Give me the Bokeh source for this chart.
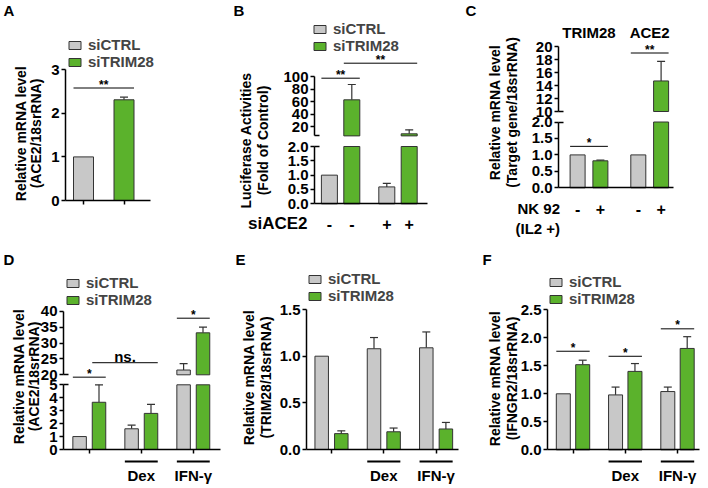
import math
from bokeh.plotting import figure
from bokeh.models import (Range1d, LinearAxis, FixedTicker, Label, Legend, LegendItem,
                          Whisker, TeeHead, ColumnDataSource, CustomJSTickFormatter,
                          PrintfTickFormatter)
from bokeh.layouts import row, column
from bokeh.embed import file_html
from bokeh.resources import INLINE

# ---------------- data ----------------
SERIES = ["siCTRL", "siTRIM28"]

A_ctrl = [1.0]
A_ctrl_sem = [0.0]
A_trim = [2.31]
A_trim_sem = [0.06]
A_ticks = [0, 1, 2, 3]
A_sig = [("**", (0, 0), (0, 1), 2.58, "lo")]

B_siACE2 = ["-", "+"]
B_ctrl = [1.0, 0.59]
B_ctrl_sem = [0.0, 0.12]
B_trim = [62.7, 8.3]
B_trim_sem = [24.5, 6.4]
B_lo_ticks = [0.0, 0.5, 1.0, 1.5, 2.0]
B_hi_ticks = [20, 40, 60, 80, 100]
B_sig = [("**", (0, 0), (0, 1), 97.3, "hi"), ("**", (0, 1), (1, 1), 121.3, "hi")]

C_genes = ["TRIM28", "ACE2"]
C_nk92 = ["-", "+"]
C_minus = [1.0, 1.0]
C_minus_sem = [0.0, 0.0]
C_plus = [0.82, 14.7]
C_plus_sem = [0.02, 3.0]
C_lo_ticks = [0.0, 0.5, 1.0, 1.5, 2.0]
C_hi_ticks = [10, 12, 14, 16, 18, 20]
C_sig = [("*", (0, 0), (0, 1), 1.26, "lo"), ("**", (1, 0), (1, 1), 19.0, "hi")]

TREATMENTS = ["", "Dex", "IFN-γ"]

D_ctrl = [1.0, 1.6, 21.5]
D_ctrl_sem = [0.0, 0.28, 2.0]
D_trim = [3.65, 2.79, 33.2]
D_trim_sem = [1.35, 0.7, 1.8]
D_lo_ticks = [0, 1, 2, 3, 4, 5]
D_hi_ticks = [20, 25, 30, 35, 40]
D_sig = [("*", (0, 0), (0, 1), 5.59, "lo"), ("ns.", (0, 1), (1, 1), 23.8, "hi"),
         ("*", (2, 0), (2, 1), 37.8, "hi")]

E_ctrl = [1.0, 1.08, 1.09]
E_ctrl_sem = [0.0, 0.12, 0.17]
E_trim = [0.17, 0.19, 0.22]
E_trim_sem = [0.03, 0.04, 0.07]
E_ticks = [0.0, 0.5, 1.0, 1.5]

F_ctrl = [1.0, 0.98, 1.04]
F_ctrl_sem = [0.0, 0.14, 0.08]
F_trim = [1.52, 1.40, 1.81]
F_trim_sem = [0.08, 0.14, 0.21]
F_ticks = [0.0, 0.5, 1.0, 1.5, 2.0, 2.5]
F_sig = [("*", (0, 0), (0, 1), 1.76, "lo"), ("*", (1, 0), (1, 1), 1.67, "lo"),
         ("*", (2, 0), (2, 1), 2.16, "lo")]

# ---------------- style ----------------
FONT = "Liberation Sans"
GREY = "#c8c8c8"
GREEN = "#5bb22c"
EDGE = "#333333"
TICK_SIZE = "15px"
YLAB_SIZE = "14px"
LEG_SIZE = "15px"


class Panel:
    def __init__(self, left, top, W, H, g0, gpx, zero_px, ppu, hi=None):
        self.left, self.top, self.W, self.H = left, top, W, H
        self.g0, self.gpx = g0, gpx
        self.maps = {"default": (zero_px, 0.0, ppu)}
        cx = g0 - left
        xr = Range1d(-cx / gpx, (W - cx) / gpx)
        cy = zero_px - top
        yr = Range1d(-(H - cy) / ppu, cy / ppu)
        p = figure(width=W, height=H, x_range=xr, y_range=yr, title=None,
                   output_backend="svg", toolbar_location=None,
                   x_axis_location=None, y_axis_location=None,
                   min_border=0, outline_line_color=None,
                   background_fill_color="white", border_fill_color="white")
        p.grid.visible = False
        if hi is not None:
            rp, rv, rppu = hi
            self.maps["hi"] = hi
            cy = rp - top
            p.extra_y_ranges = {"hi": Range1d(rv - (H - cy) / rppu, rv + cy / rppu)}
        self.p = p

    def X(self, px):
        return (px - self.g0) / self.gpx

    def Y(self, py, rn="default"):
        rp, rv, ppu = self.maps[rn]
        return rv + (rp - py) / ppu

    def PY(self, y, rn="default"):
        rp, rv, ppu = self.maps[rn]
        return rp - (y - rv) * ppu


def style_axis(ax, size=TICK_SIZE):
    ax.axis_line_color = "black"
    ax.axis_line_width = 1.5
    ax.major_tick_line_color = "black"
    ax.major_tick_line_width = 1.5
    ax.major_tick_out = 4
    ax.major_tick_in = 0
    ax.minor_tick_out = 0
    ax.minor_tick_in = 0
    ax.major_label_text_font = FONT
    ax.major_label_text_font_style = "bold"
    ax.major_label_text_font_size = size
    ax.major_label_text_color = "black"
    ax.major_label_standoff = 2


def empty_fmt():
    return CustomJSTickFormatter(code="return ''")


def y_axis(P, ax_px, ticks, bounds, fmt, rn="default", brk=None):
    ax = LinearAxis(y_range_name=rn, ticker=FixedTicker(ticks=ticks), bounds=bounds,
                    fixed_location=P.X(ax_px), formatter=PrintfTickFormatter(format=fmt))
    style_axis(ax)
    P.p.add_layout(ax, "left")
    if brk is not None:
        bx = LinearAxis(y_range_name=rn, ticker=FixedTicker(ticks=[brk]),
                        fixed_location=P.X(ax_px), formatter=empty_fmt())
        style_axis(bx)
        bx.axis_line_color = None
        bx.major_tick_in = 5
        bx.major_tick_out = 0
        P.p.add_layout(bx, "left")


def x_axis(P, ax_px, end_px, ticks):
    ax = LinearAxis(ticker=FixedTicker(ticks=ticks), bounds=(P.X(ax_px), P.X(end_px)),
                    fixed_location=0.0, formatter=empty_fmt())
    style_axis(ax)
    ax.major_tick_out = 4 if ticks else 0
    P.p.add_layout(ax, "below")


def bar_set(P, xs, vals, color, w, lo_top=None, hi_bot=None):
    tops = list(vals) if lo_top is None else [min(v, lo_top) for v in vals]
    r = P.p.vbar(x=xs, top=tops, bottom=0, width=w, fill_color=color,
                 line_color=EDGE, line_width=1)
    if lo_top is not None:
        hx = [x for x, v in zip(xs, vals) if v > hi_bot]
        hv = [v for v in vals if v > hi_bot]
        if hx:
            P.p.vbar(x=hx, top=hv, bottom=hi_bot, width=w, fill_color=color,
                     line_color=EDGE, line_width=1, y_range_name="hi")
    return r


def err_set(P, xs, vals, sems, lo_top=None):
    groups = {"default": [], "hi": []}
    for x, v, e in zip(xs, vals, sems):
        if e <= 0:
            continue
        rn = "hi" if (lo_top is not None and v > lo_top) else "default"
        groups[rn].append((x, v, v + e))
    for rn, items in groups.items():
        if not items:
            continue
        src = ColumnDataSource(dict(base=[i[0] for i in items], lower=[i[1] for i in items],
                                    upper=[i[2] for i in items]))
        wk = Whisker(source=src, base="base", lower="lower", upper="upper", dimension="height",
                     line_color=EDGE, line_width=1.2, lower_head=None,
                     upper_head=TeeHead(size=8, line_color=EDGE, line_width=1.2),
                     y_range_name=rn)
        P.p.add_layout(wk)


def lab(P, x, y, s, size, align="center", baseline="middle", angle=0.0):
    P.p.add_layout(Label(x=x, y=y, text=s, text_font=FONT, text_font_style="bold",
                         text_font_size=size, text_align=align, text_baseline=baseline,
                         angle=angle, text_color="black"))


def make(letter, box, g0, gpx, dodge_px, bar_px, axis_x, axis_end, zero_px, ppu,
         ticks, bounds, fmt, ctrl, ctrl_sem, trim, trim_sem, letter_pos, ylab, ylab_pos,
         hi=None, hi_ticks=None, hi_bounds=None, xtick_mode="none",
         legend_pos=None, sig=()):
    left, top, W, H = box
    P = Panel(left, top, W, H, g0, gpx, zero_px, ppu, hi)
    n = len(ctrl)
    d = dodge_px / gpx
    w = bar_px / gpx
    xc = [g - d for g in range(n)]
    xt = [g + d for g in range(n)]
    P.xc, P.xt, P.w = xc, xt, w
    lo_top = bounds[1] if hi else None
    hi_bot = hi_bounds[0] if hi else None
    rc = bar_set(P, xc, ctrl, GREY, w, lo_top, hi_bot)
    rt = bar_set(P, xt, trim, GREEN, w, lo_top, hi_bot)
    err_set(P, xc, ctrl, ctrl_sem, lo_top)
    err_set(P, xt, trim, trim_sem, lo_top)

    # axes
    y_axis(P, axis_x, ticks, bounds, fmt, "default", brk=(bounds[1] if hi else None))
    if hi:
        y_axis(P, axis_x, hi_ticks, hi_bounds, "%d", "hi", brk=hi_bounds[0])
    if xtick_mode == "bars":
        xticks = xc + xt
    elif xtick_mode == "groups":
        xticks = list(range(n))
    else:
        xticks = []
    x_axis(P, axis_x, axis_end, xticks)

    # significance
    for text, (g1, s1), (g2, s2), yv, seg in sig:
        rn = "hi" if seg == "hi" else "default"
        xa = (xc if s1 == 0 else xt)[g1] - w / 2
        xb = (xc if s2 == 0 else xt)[g2] + w / 2
        P.p.segment(x0=[xa], y0=[yv], x1=[xb], y1=[yv], line_color="black",
                    line_width=1, y_range_name=rn)
        lpx = P.PY(yv, rn)
        off = 6.5 if text == "ns." else 3.5
        lab(P, (xa + xb) / 2, P.Y(lpx - off), text, "15px" if text == "ns." else "12px")

    # legend
    if legend_pos is not None:
        sx, sy = legend_pos
        leg_h = 31
        leg = Legend(items=[LegendItem(label=SERIES[0], renderers=[rc]),
                            LegendItem(label=SERIES[1], renderers=[rt])],
                     location=(sx - left, H - (sy - top) - leg_h), orientation="vertical",
                     padding=0, margin=0, spacing=0, glyph_width=15, glyph_height=10,
                     label_height=10, label_standoff=6, label_text_font=FONT,
                     label_text_font_style="bold", label_text_font_size=LEG_SIZE,
                     border_line_color=None, background_fill_alpha=0)
        P.p.add_layout(leg)

    # panel letter and y label
    lab(P, P.X(letter_pos[0]), P.Y(letter_pos[1]), letter, "15px", align="left")
    x1, x2, yc = ylab_pos
    lab(P, P.X(x1), P.Y(yc), ylab[0], YLAB_SIZE, angle=math.pi / 2)
    lab(P, P.X(x2), P.Y(yc), ylab[1], YLAB_SIZE, angle=math.pi / 2)
    return P


def treatment_marks(P, y_line, y_text):
    for g, name in enumerate(TREATMENTS):
        if not name:
            continue
        xa = P.xc[g] - P.w / 2
        xb = P.xt[g] + P.w / 2
        P.p.segment(x0=[xa], y0=[P.Y(y_line)], x1=[xb], y1=[P.Y(y_line)],
                    line_color="black", line_width=2)
        lab(P, float(g), P.Y(y_text), name, "15px")


# ---------------- panels ----------------
pA = make("A", (0, 0, 230, 240), 103.25, 40.5, 20.25, 20, 65, 150, 200, 43.6,
          A_ticks, (0, 3), "%d", A_ctrl, A_ctrl_sem, A_trim, A_trim_sem,
          (3, 10), ("Relative mRNA level", "(ACE2/18srRNA)"), (20, 35, 133),
          xtick_mode="bars", legend_pos=(67, 39), sig=A_sig)

pB = make("B", (230, 0, 230, 240), 340.1, 57.4, 11.2, 16, 314, 427, 203.3, 28.65,
          B_lo_ticks, (0, 2.0), "%.1f", B_ctrl, B_ctrl_sem, B_trim, B_trim_sem,
          (233, 10), ("Luciferase Activities", "(Fold of Control)"), (245, 262, 140),
          hi=(126, 20, 0.625), hi_ticks=B_hi_ticks, hi_bounds=(5, 100),
          legend_pos=(312, 23), sig=B_sig)
for g, sign in enumerate(B_siACE2):
    lab(pB, pB.xc[g], pB.Y(223), sign, "16px")
    lab(pB, pB.xt[g], pB.Y(223), sign, "16px")
lab(pB, pB.X(307), pB.Y(223), "siACE2", "17px", align="right")

pC = make("C", (460, 0, 246, 240), 588.5, 60.7, 11.4, 15, 558, 673, 187.3, 32.9,
          C_lo_ticks, (0, 2.0), "%.1f", C_minus, C_minus_sem, C_plus, C_plus_sem,
          (465, 10), ("Relative mRNA level", "(Target gene/18srRNA)"), (494, 511, 112),
          hi=(111, 10, 6.5), hi_ticks=C_hi_ticks, hi_bounds=(10, 20), sig=C_sig)
for g, gene in enumerate(C_genes):
    lab(pC, float(g), pC.Y(32), gene, "15px")
    lab(pC, pC.xc[g], pC.Y(208), C_nk92[0], "16px")
    lab(pC, pC.xt[g], pC.Y(208), C_nk92[1], "16px")
lab(pC, pC.X(517), pC.Y(208), "NK 92", "15px", align="left")
lab(pC, pC.X(515), pC.Y(228), "(IL2 +)", "15px", align="left")

pD = make("D", (0, 240, 230, 246), 88.8, 52, 9.7, 13.5, 63, 220, 449, 12.94,
          D_lo_ticks, (0, 5), "%d", D_ctrl, D_ctrl_sem, D_trim, D_trim_sem,
          (3, 259), ("Relative mRNA level", "(ACE2/18srRNA)"), (18, 33, 376),
          hi=(374.3, 20, 3.18), hi_ticks=D_hi_ticks, hi_bounds=(20, 40),
          xtick_mode="groups", legend_pos=(65, 277), sig=D_sig)
treatment_marks(pD, 461, 475)

pE = make("E", (230, 240, 230, 246), 331, 52.3, 9.8, 13.5, 306, 458, 449, 93.3,
          E_ticks, (0, 1.5), "%.1f", E_ctrl, E_ctrl_sem, E_trim, E_trim_sem,
          (235, 259), ("Relative mRNA level", "(TRIM28/18srRNA)"), (248, 265, 377),
          xtick_mode="groups", legend_pos=(307, 273))
treatment_marks(pE, 461, 475)

pF = make("F", (460, 240, 246, 246), 572.5, 52.25, 9.7, 14, 547, 699, 449.3, 56,
          F_ticks, (0, 2.5), "%.1f", F_ctrl, F_ctrl_sem, F_trim, F_trim_sem,
          (482, 259), ("Relative mRNA level", "(IFNGR2/18srRNA)"), (494, 511, 378),
          xtick_mode="groups", legend_pos=(548, 276), sig=F_sig)
treatment_marks(pF, 461, 475)

layout = column(row(pA.p, pB.p, pC.p), row(pD.p, pE.p, pF.p))
open("out.html", "w").write(file_html(layout, INLINE))
